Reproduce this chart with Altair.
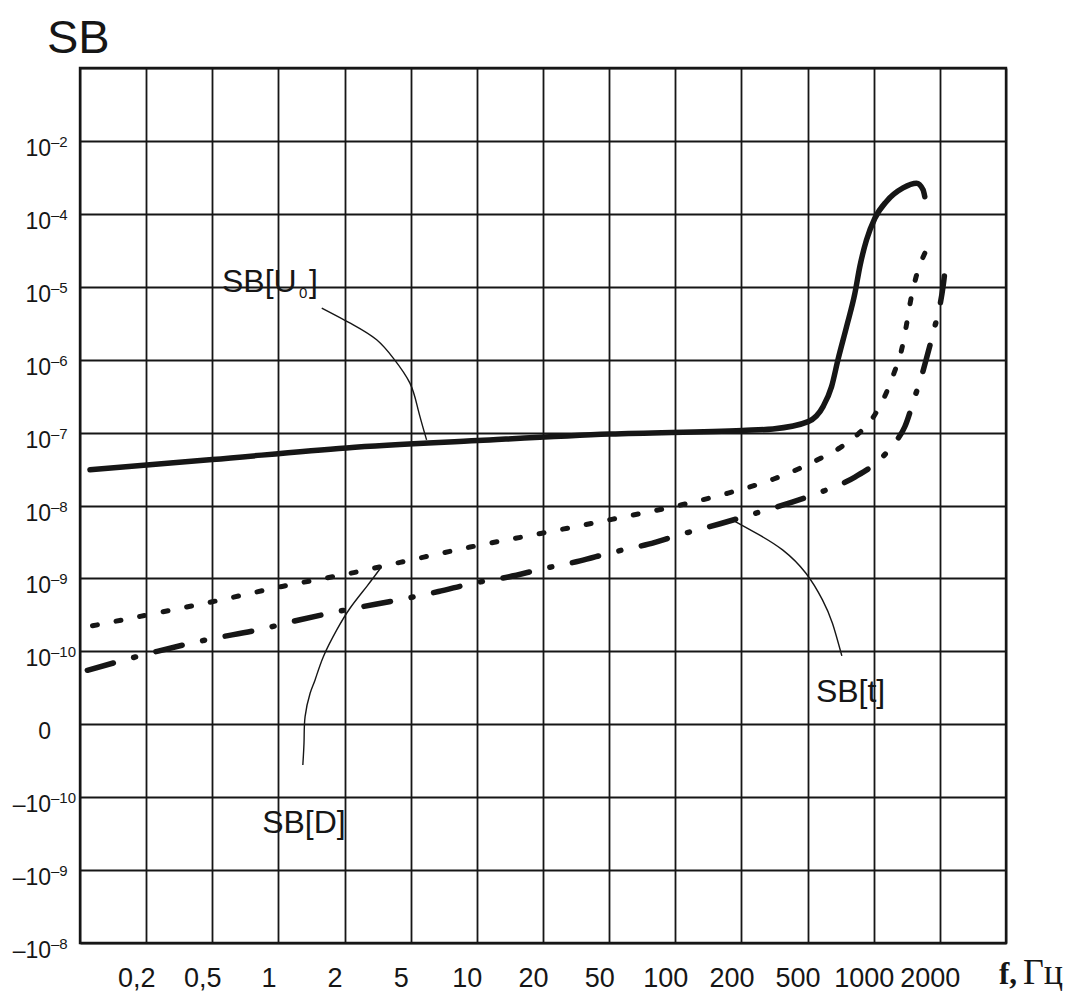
import altair as alt
import numpy as np
import pandas as pd

# ---------------- data ----------------
# frequency grid (Hz) of the chart: 1-2-5 steps, one grid column per step
FREQ_GRID = [0.1, 0.2, 0.5, 1, 2, 5, 10, 20, 50, 100, 200, 500, 1000, 2000, 5000]
X_TICK_LABELS = ["", "0,2", "0,5", "1", "2", "5", "10", "20", "50", "100",
                 "200", "500", "1000", "2000", ""]
# y grid rows, bottom to top
Y_TICK_BASE = ["–10", "–10", "–10", "0", "10", "10", "10", "10", "10", "10", "10", "10"]
Y_TICK_EXP = ["–8", "–9", "–10", "", "–10", "–9", "–8", "–7", "–6", "–5", "–4", "–2"]

# SB[U0] (solid): frequency, Hz / log10 SB
U0_F = [0.111, 0.5, 2.05, 10.1, 50.5, 203, 309, 503, 589, 643, 689, 752, 821,
        865, 927, 1012, 1143, 1360, 1566, 1677, 1708]
U0_LG = [-7.51, -7.37, -7.21, -7.11, -7.02, -6.97, -6.95, -6.85, -6.64, -6.37,
         -5.99, -5.55, -5.09, -4.72, -4.36, -4.06, -3.66, -3.29, -3.16, -3.34, -3.53]

# SB[D] (dotted)
D_F = [0.114, 0.188, 0.5, 1.04, 2.27, 4.32, 9.32, 19.8, 51.4, 107, 174, 310, 558,
       701, 849, 1004, 1131, 1235, 1338, 1410, 1470, 1554, 1708]
D_LG = [-9.65, -9.52, -9.32, -9.11, -8.92, -8.78, -8.57, -8.38, -8.19, -7.99,
        -7.83, -7.64, -7.37, -7.21, -7.02, -6.77, -6.48, -6.19, -5.87, -5.52,
        -5.20, -4.88, -4.54]

# SB[t] (dash-dot)
T_F = [0.108, 0.150, 0.233, 0.465, 0.828, 1.24, 2.16, 4.32, 6.69, 9.49, 13.9, 19.8,
       33.4, 50.5, 75.4, 105, 160, 225, 382, 558, 821, 1066, 1238, 1385, 1538,
       1650, 1739, 1896, 1997, 2090, 2192]
T_LG = [-10.26, -10.14, -10.00, -9.84, -9.70, -9.57, -9.42, -9.29, -9.18, -9.07,
        -8.98, -8.87, -8.76, -8.65, -8.53, -8.40, -8.25, -8.13, -7.97, -7.83,
        -7.61, -7.37, -7.15, -6.92, -6.51, -6.23, -5.98, -5.55, -5.27, -5.00, -4.59]

# curve labels and their leader lines (grid units: column, row)
LABEL_TEXT = ["SB[U", "SB[t]", "SB[D]"]
LABEL_COL = [2.146, 11.126, 2.754]
LABEL_ROW = [8.930, 3.306, 1.509]

LEAD_U0_COL = [3.655, 4.132, 4.485, 4.736, 4.988, 5.113, 5.240]
LEAD_U0_ROW = [8.706, 8.477, 8.272, 8.021, 7.678, 7.312, 6.900]
LEAD_T_COL = [9.908, 10.270, 10.622, 10.975, 11.225, 11.376, 11.518]
LEAD_T_ROW = [5.779, 5.597, 5.391, 5.071, 4.705, 4.385, 3.937]
LEAD_D_COL = [3.369, 3.388, 3.403, 3.479, 3.554, 3.679, 3.882, 4.082, 4.334, 4.535]
LEAD_D_ROW = [2.442, 2.785, 3.104, 3.425, 3.608, 3.927, 4.294, 4.591, 4.888, 5.130]


# ---------------- scales of the drawing ----------------
def f_pos(f):
    return np.interp(np.log10(np.asarray(f, float)), np.log10(FREQ_GRID),
                     np.arange(len(FREQ_GRID)))


def lg_pos(lg):
    lg = np.asarray(lg, float)
    # one row per decade up to 1e-4, then 1e-4 .. 1e-2 in one row
    return np.where(lg <= -4, lg + 14, 10 + (lg + 4) / 2)


def curve(f, lg):
    return pd.DataFrame({"x": f_pos(f), "y": lg_pos(lg), "i": np.arange(len(f))})


def pts(cols, rows):
    return pd.DataFrame({"x": cols, "y": rows, "i": np.arange(len(cols))})


INK = "#161616"
FONT = "Liberation Sans"
SERIF = "Liberation Serif"
NCOL = len(FREQ_GRID) - 1
NROW = len(Y_TICK_BASE)

label_expr = "[" + ",".join("'%s'" % s for s in X_TICK_LABELS) + "][datum.value]"

X_AXIS = alt.Axis(values=list(range(NCOL + 1)), grid=True, gridColor=INK, gridWidth=1.8,
                  gridOpacity=1, domain=False, ticks=False, tickSize=0, labelExpr=label_expr,
                  labelFont=FONT, labelFontSize=27, labelColor=INK, labelPadding=22,
                  labelOffset=-10, labelOverlap=False, labelFlush=False, labelBound=False,
                  title=None)
Y_AXIS = alt.Axis(values=list(range(NROW + 1)), grid=True, gridColor=INK, gridWidth=1.8,
                  gridOpacity=1, domain=False, ticks=False, tickSize=0, labels=False,
                  title=None)


def X():
    return alt.X("x:Q", scale=alt.Scale(domain=[0, NCOL], nice=False, zero=False), axis=X_AXIS)


def Y():
    return alt.Y("y:Q", scale=alt.Scale(domain=[0, NROW], nice=False, zero=False), axis=Y_AXIS)


def line(df, interp="monotone", **kw):
    return alt.Chart(df).mark_line(color=INK, strokeJoin="round", interpolate=interp,
                                   **kw).encode(x=X(), y=Y(), order="i:Q")


solid = line(curve(U0_F, U0_LG), strokeWidth=5.5, strokeCap="round")
dotted = line(curve(D_F, D_LG), strokeWidth=5, strokeCap="round", strokeDash=[5, 19])
dashdot = line(curve(T_F, T_LG), strokeWidth=5.5, strokeCap="round",
               strokeDash=[27, 21, 2, 21])

lead_u0 = line(pts(LEAD_U0_COL, LEAD_U0_ROW), interp="natural", strokeWidth=1.4)
lead_t = line(pts(LEAD_T_COL, LEAD_T_ROW), interp="natural", strokeWidth=1.4)
lead_d = line(pts(LEAD_D_COL, LEAD_D_ROW), interp="natural", strokeWidth=1.4)

# y tick labels (base + superscript)
ydf = pd.DataFrame({"x": 0, "y": np.arange(NROW), "base": Y_TICK_BASE, "exp": Y_TICK_EXP})
ybase = alt.Chart(ydf).mark_text(align="right", baseline="alphabetic", dx=-29, dy=15,
                                 fontSize=23, font=FONT, color=INK).encode(
    x=X(), y=Y(), text="base:N")
yexp = alt.Chart(ydf).mark_text(align="left", baseline="alphabetic", dx=-29, dy=6,
                                fontSize=15, font=FONT, color=INK).encode(
    x=X(), y=Y(), text="exp:N")

# curve labels
ldf = pd.DataFrame({"x": LABEL_COL, "y": LABEL_ROW, "t": LABEL_TEXT})
labels = alt.Chart(ldf).mark_text(align="left", baseline="alphabetic", fontSize=32,
                                  font=FONT, color=INK).encode(x=X(), y=Y(), text="t:N")
u0df = ldf.iloc[[0]]
u0_sub = alt.Chart(u0df).mark_text(align="left", baseline="alphabetic", dx=77, dy=6,
                                   fontSize=15, font=FONT, color=INK).encode(
    x=X(), y=Y(), text=alt.value("0"))
u0_close = alt.Chart(u0df).mark_text(align="left", baseline="alphabetic", dx=87,
                                     fontSize=32, font=FONT, color=INK).encode(
    x=X(), y=Y(), text=alt.value("]"))

# title "SB" at top-left corner and axis name at bottom-right corner
corner_tl = pd.DataFrame({"x": [0], "y": [NROW]})
corner_br = pd.DataFrame({"x": [NCOL], "y": [0]})
title = alt.Chart(corner_tl).mark_text(align="left", baseline="alphabetic", dx=-33, dy=-15,
                                       fontSize=47, font=FONT, color=INK).encode(
    x=X(), y=Y(), text=alt.value("SB"))
fname = alt.Chart(corner_br).mark_text(align="left", baseline="alphabetic", dx=-7, dy=41,
                                       fontSize=31, font=SERIF, fontWeight="bold",
                                       color=INK).encode(x=X(), y=Y(), text=alt.value("f,"))
funit = alt.Chart(corner_br).mark_text(align="left", baseline="alphabetic", dx=17, dy=41,
                                       fontSize=36, font=SERIF, color=INK).encode(
    x=X(), y=Y(), text=alt.value("Гц"))

chart = alt.layer(
    solid, dotted, dashdot, lead_u0, lead_t, lead_d,
    ybase, yexp, labels, u0_sub, u0_close, title, fname, funit
).properties(
    width=926, height=875,
    autosize=alt.AutoSizeParams(type="none"),
    padding={"left": 80, "top": 68, "right": 73, "bottom": 49},
    background="white",
).configure_view(stroke=INK, strokeWidth=2.4)

chart.save("out.html", embed_options={"renderer": "svg", "actions": False})
